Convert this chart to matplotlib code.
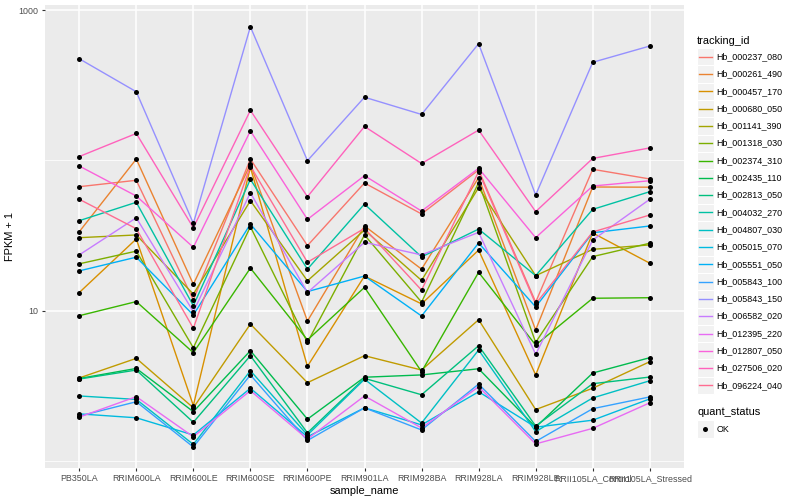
import matplotlib
matplotlib.use('Agg')
import matplotlib.pyplot as plt
from matplotlib.patches import Rectangle
from matplotlib.lines import Line2D
from matplotlib.ticker import NullFormatter, FixedFormatter
import numpy as np

plt.rcParams['font.family'] = ['Liberation Sans', 'DejaVu Sans']

samples = ['PB350LA', 'RRIM600LA', 'RRIM600LE', 'RRIM600SE', 'RRIM600PE',
           'RRIM901LA', 'RRIM928BA', 'RRIM928LA', 'RRIM928LE',
           'RRII105LA_Control', 'RRII105LA_Stressed']

tracking_ids = ['Hb_000237_080', 'Hb_000261_490', 'Hb_000457_170', 'Hb_000680_050',
                'Hb_001141_390', 'Hb_001318_030', 'Hb_002374_310', 'Hb_002435_110',
                'Hb_002813_050', 'Hb_004032_270', 'Hb_004807_030', 'Hb_005015_070',
                'Hb_005551_050', 'Hb_005843_100', 'Hb_005843_150', 'Hb_006582_020',
                'Hb_012395_220', 'Hb_012807_050', 'Hb_027506_020', 'Hb_096224_040']

# ggplot hue palette, 20 levels
colours = ['#F8766D', '#EA8331', '#D89000', '#C09B00', '#A3A500', '#7CAE00',
           '#39B600', '#00BB4E', '#00BF7D', '#00C1A3', '#00BFC4', '#00BAE0',
           '#00B0F6', '#35A2FF', '#9590FF', '#C77CFF', '#E76BF3', '#FA62DB',
           '#FF62BC', '#FF6C91']

# FPKM + 1, one list per gene, in sample order
hb_000237_080 = [66.8, 73.7, 11.8, 102, 27.1, 70.7, 44.0, 86.3, 11.4, 87.2, 75.2]
hb_000261_490 = [33.5, 102, 15.0, 94.1, 8.54, 36.6, 18.9, 76.7, 7.44, 66.5, 66.3]
hb_000457_170 = [13.2, 30.0, 2.34, 89.9, 4.27, 17.0, 11.1, 25.3, 3.74, 32.9, 20.7]
hb_000680_050 = [3.57, 4.82, 2.26, 8.15, 3.32, 5.02, 4.03, 8.71, 2.20, 3.05, 4.58]
hb_001141_390 = [30.6, 31.9, 12.9, 53.9, 15.8, 34.4, 15.9, 65.8, 17.1, 25.6, 27.4]
hb_001318_030 = [20.5, 24.9, 5.67, 36.2, 6.16, 31.9, 11.4, 71.0, 6.16, 22.9, 28.1]
hb_002374_310 = [9.26, 11.5, 5.26, 19.2, 6.39, 14.3, 3.93, 18.0, 5.91, 12.1, 12.2]
hb_002435_110 = [3.54, 4.13, 2.13, 5.42, 1.90, 3.61, 3.74, 4.11, 1.68, 3.85, 4.87]
hb_002813_050 = [3.51, 4.03, 1.81, 5.02, 1.54, 3.55, 2.76, 5.85, 1.71, 3.27, 3.62]
hb_004032_270 = [39.7, 52.6, 10.8, 74.8, 18.9, 51.2, 22.8, 34.9, 17.1, 47.2, 61.9]
hb_004807_030 = [2.71, 2.57, 1.29, 3.99, 1.49, 3.50, 1.79, 5.48, 1.57, 2.63, 3.42]
hb_005015_070 = [2.06, 1.94, 1.49, 3.05, 1.45, 2.26, 1.74, 2.89, 1.68, 1.87, 2.59]
hb_005551_050 = [18.4, 22.7, 9.36, 37.7, 13.4, 17.0, 9.22, 28.2, 10.6, 33.0, 36.6]
hb_005843_100 = [1.99, 2.48, 1.24, 3.74, 1.37, 2.26, 1.61, 3.25, 1.35, 2.23, 2.67]
hb_005843_150 = [474, 286, 38.1, 774, 99.5, 263, 202, 597, 58.8, 449, 576]
hb_006582_020 = [23.5, 41.5, 9.85, 60.9, 13.2, 28.5, 23.5, 33.2, 5.13, 29.5, 55.1]
hb_012395_220 = [1.96, 2.68, 1.45, 2.94, 1.40, 2.71, 1.66, 3.12, 1.30, 1.65, 2.44]
hb_012807_050 = [91.7, 57.9, 26.4, 157, 40.5, 79.1, 46.0, 88.5, 30.6, 67.5, 73.2]
hb_027506_020 = [106, 151, 35.6, 215, 57.3, 168, 95.3, 159, 45.6, 103, 121]
hb_096224_040 = [55.1, 35.1, 7.64, 91.7, 21.0, 35.3, 13.7, 84.1, 11.1, 33.4, 43.3]

series = [hb_000237_080, hb_000261_490, hb_000457_170, hb_000680_050,
          hb_001141_390, hb_001318_030, hb_002374_310, hb_002435_110,
          hb_002813_050, hb_004032_270, hb_004807_030, hb_005015_070,
          hb_005551_050, hb_005843_100, hb_005843_150, hb_006582_020,
          hb_012395_220, hb_012807_050, hb_027506_020, hb_096224_040]

W, H = 800, 500
fig = plt.figure(figsize=(8, 5), dpi=100)
ax = fig.add_axes([45 / W, 1 - 468 / H, (684 - 45) / W, (468 - 5) / H])
ax.set_facecolor('#EBEBEB')

x = np.arange(len(samples))
for vals, col in zip(series, colours):
    ax.plot(x, vals, color=col, lw=1.0, zorder=3)
for vals in series:
    ax.plot(x, vals, 'o', color='black', ms=3.6, mew=0, zorder=4)

ax.set_yscale('log')
ax.set_ylim(10 ** -0.0462, 10 ** 3.0333)
ax.set_xlim(-0.6, len(samples) - 0.4)
ax.set_yticks([10, 1000])
ax.yaxis.set_major_formatter(FixedFormatter(['10', '1000']))
ax.set_yticks([1, 100], minor=True)
ax.yaxis.set_minor_formatter(NullFormatter())
ax.set_xticks(x)
ax.set_xticklabels(samples)
ax.grid(True, which='major', color='white', lw=1.1, zorder=1)
ax.grid(True, which='minor', axis='y', color='white', lw=0.55, zorder=1)
ax.tick_params(axis='both', which='major', length=2.5, width=0.8, color='#333333',
               labelsize=6.4, labelcolor='#4D4D4D', pad=2)
ax.tick_params(axis='y', which='minor', length=0)
for s in ax.spines.values():
    s.set_visible(False)
ax.set_axisbelow(True)

ax.set_xlabel('sample_name', fontsize=7.9, labelpad=2)
ax.set_ylabel('FPKM + 1', fontsize=7.9, labelpad=3)


def px(xp, yp):
    return xp / W, 1 - yp / H


# legend: tracking_id
fig.text(*px(697, 40.7), 'tracking_id', fontsize=7.9, va='center', ha='left')
row = 17.3
for i, (tid, col) in enumerate(zip(tracking_ids, colours)):
    cy = 56.7 + i * row
    x0, y0 = px(696.5, cy + row / 2)
    fig.add_artist(Rectangle((x0, y0), 17.3 / W, row / H, transform=fig.transFigure,
                             facecolor='#F2F2F2', edgecolor='white', lw=0.8))
    xa, ya = px(698.5, cy)
    xb, _ = px(711.8, cy)
    fig.add_artist(Line2D([xa, xb], [ya, ya], transform=fig.transFigure, color=col, lw=1.0))
    fig.text(*px(716.5, cy), tid, fontsize=6.4, va='center', ha='left')

# legend: quant_status
fig.text(*px(697, 412.3), 'quant_status', fontsize=7.9, va='center', ha='left')
x0, y0 = px(696.5, 429 + row / 2)
fig.add_artist(Rectangle((x0, y0), 17.3 / W, row / H, transform=fig.transFigure,
                         facecolor='#F2F2F2', edgecolor='white', lw=0.8))
fig.add_artist(Line2D([px(705.2, 429)[0]], [px(705.2, 429)[1]], transform=fig.transFigure,
                      marker='o', color='black', ms=3.6, mew=0))
fig.text(*px(716.5, 429), 'OK', fontsize=6.4, va='center', ha='left')

fig.savefig('out.png', dpi=100, facecolor='white')
